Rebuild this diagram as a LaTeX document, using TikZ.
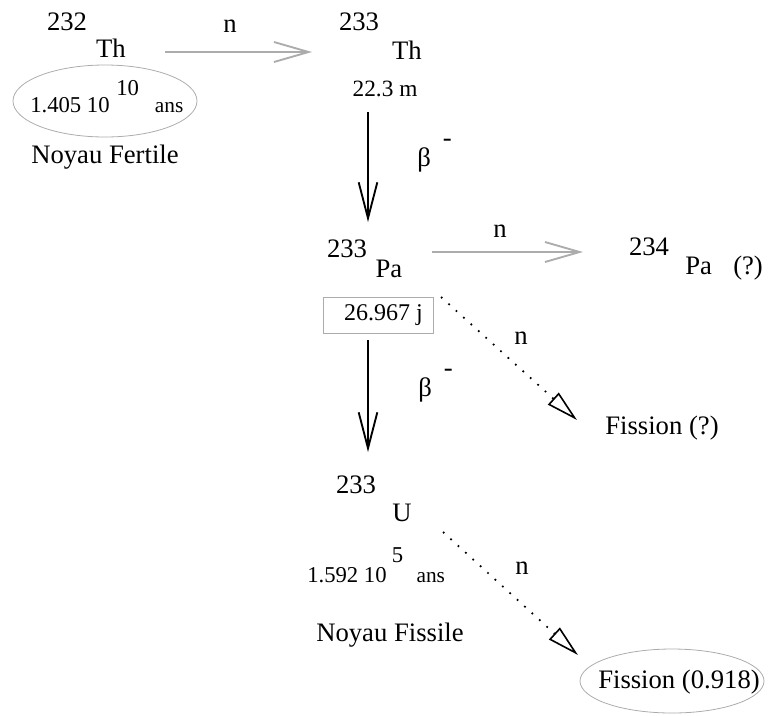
\documentclass[tikz,border=0pt]{standalone}
\usepackage{fontspec}
\setmainfont{Liberation Serif}
\usetikzlibrary{arrows.meta,shapes.geometric}

\begin{document}
\begin{tikzpicture}[x=0.75pt,y=0.75pt,
  every node/.style={inner sep=0pt,font=\fontsize{20}{24}\selectfont},
  mid/.style={font=\fontsize{17}{20}\selectfont},
  halo/.style={ellipse,draw=gray!65,line width=0.6pt},
  capture/.style={draw=gray!65,line width=2pt,-{Straight Barb[length=26pt,width=15pt,line width=1.4pt]}},
  decay/.style={line width=1.8pt,-{Straight Barb[length=27pt,width=14pt,line width=1.4pt]}},
  split/.style={line width=1.3pt,dash pattern=on 1.3pt off 6.2pt,-{Triangle[open,length=24pt,width=12pt,line width=1.2pt]}}]

\useasboundingbox (0,0) rectangle (770,-715);

% Th 232
\node(M232)    at (67,-22)  {232};
\node(TH232)   at (111,-48) {Th};
\node(HALO232) [halo,minimum width=138pt,minimum height=54pt] at (105,-101) {};
\node(LIFE232) [mid,anchor=west] at (30,-105)
      {1.405 10\hspace{5pt}\smash{\raisebox{13pt}{10}}\hspace{12pt}{\fontsize{16}{18}\selectfont ans}};
\node(FERTILE) at (105,-157) {Noyau Fertile};

% Th 233
\node(N1)      at (230,-26) {n};
\node(M233A)   at (359,-22) {233};
\node(TH233)   at (407,-50) {Th};
\node(LIFE233) [font=\fontsize{17.5}{20}\selectfont] at (385,-89) {22.3 m};
\coordinate(C1S) at (165,-52);
\coordinate(C1E) at (312,-52);
\coordinate(B1S) at (368,-112);
\coordinate(B1E) at (368,-222);
\node(BETA1)   [anchor=west] at (417,-160) {β\hspace{9pt}\smash{\raisebox{15pt}{-}}};

% Pa 233
\node(M233B)   at (347,-249) {233};
\node(PA233)   at (389,-269) {Pa};
\node(N2)      at (500,-231) {n};
\coordinate(C2S) at (432,-252);
\coordinate(C2E) at (583,-252);
\node(M234)    at (649,-247) {234};
\node(PA234)   [anchor=west] at (685,-268) {Pa\hspace{16pt}(?)};
\node(LIFEPA)  [draw=gray!65,line width=0.6pt,minimum width=82.5pt,minimum height=27pt,font=\fontsize{18}{21}\selectfont] at (378,-315) {\hspace{8pt}26.967 j};
\coordinate(S1S) at (441,-297);
\coordinate(S1E) at (577,-420);
\node(N3)      at (521,-338) {n};
\node(FIS1)    at (662,-428) {Fission (?)};
\coordinate(B2S) at (368,-340);
\coordinate(B2E) at (368,-452);
\node(BETA2)   [anchor=west] at (418,-390) {β\hspace{9pt}\smash{\raisebox{15pt}{-}}};

% U 233
\node(M233C)   at (356,-485) {233};
\node(U233)    at (402,-513) {U};
\node(LIFEU)   [mid,anchor=west] at (307,-575)
      {1.592 10\hspace{4pt}\smash{\raisebox{15pt}{5}}\hspace{10pt}{\fontsize{16}{18}\selectfont ans}};
\node(FISSILE) at (390,-635) {Noyau Fissile};
\coordinate(S2S) at (443,-532);
\coordinate(S2E) at (578,-655);
\node(N4)      at (522,-568) {n};
\node(HALOFIS) [halo,minimum width=138pt,minimum height=48pt] at (672,-681) {};
\node(FIS2)    at (679,-682) {Fission (0.918)};

\draw[capture] (C1S) -- (C1E);
\draw[decay]   (B1S) -- (B1E);
\draw[capture] (C2S) -- (C2E);
\draw[split]   (S1S) -- (S1E);
\draw[decay]   (B2S) -- (B2E);
\draw[split]   (S2S) -- (S2E);
\end{tikzpicture}
\end{document}
